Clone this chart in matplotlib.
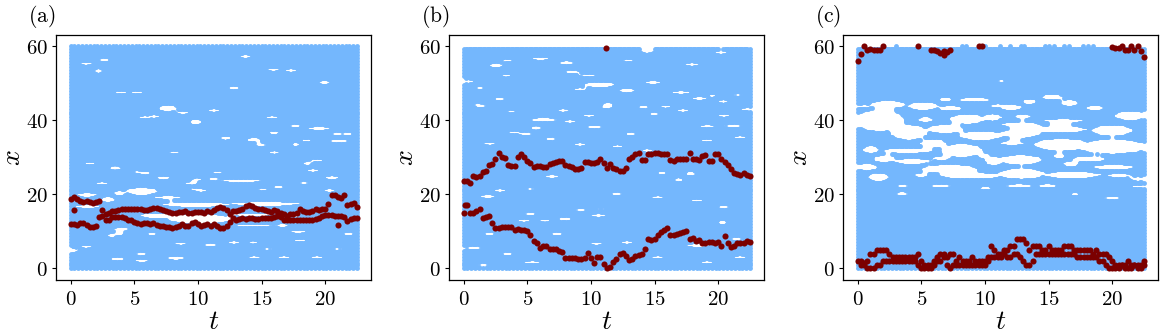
import numpy as np
import matplotlib
matplotlib.use('Agg')
import matplotlib.pyplot as plt

plt.rcParams['mathtext.fontset'] = 'cm'
plt.rcParams['axes.linewidth'] = 0.9

# temps d'echantillonnage et bords du nuage bleu
t_blue = np.arange(0, 22.51, 0.1)
x_blue = np.arange(0, 60.01, 0.2)
top_a, top_b, top_c = 60.0, 59.6, 59.5
dots_top_c = [3.0, 8.2, 8.5, 10.0, 11.2, 12.0, 12.8, 13.1, 14.7, 15.0, 15.4, 16.2, 16.6, 17.7, 18.1, 18.5]

# trous blancs du nuage bleu : (t debut, t fin, x centre, hauteur)
gaps_a = [(7.0,8.2,43.4,1.2),(9.4,10.2,39.7,.8),(1.85,2.45,53.5,.5),(8.4,9.2,42.2,.4),(11.8,12.5,35.3,.5),
          (13.9,14.8,34.9,.6),(15.6,16.3,36.8,.5),(18.6,20.4,38,.4),(20.3,21.8,34.5,.4),(19.5,20.3,50.4,.4),
          (15.6,16.3,31.5,.5),(14.6,15.3,33.5,.4),(17.4,17.9,33.6,.4),(18.2,18.8,34.7,.4),(18.3,18.8,28.5,.7),
          (3.1,3.8,27.2,.7),(6.8,7.7,24.6,.6),(11.9,14.9,23.8,.6),(4.4,6.7,21,1.5),(3.4,4.2,20.5,.9),
          (6.7,8.5,19.3,.6),(.5,2,20,.7),(2.4,3.4,18.7,1),(7.1,12.5,17.4,.8),(12.5,18,17.6,.8),(.5,2.1,16.9,.8),
          (5.5,9,14.4,1),(7.8,12.5,13.5,2),(12.5,16,14.6,.5),(16,18,14.3,.5),(16.2,17,11.7,.6),(12.5,16.2,11.7,.4),
          (3.4,4.6,10.8,.6),(2.9,3.5,9,.5),(17.3,18.4,10,.4),(10.5,11.4,6.5,.4),(3.1,4.2,2.7,.4),(7.6,8.9,2.9,.5),
          (5.1,6,2.2,.5),(.7,1.7,6,.3),(0,.5,5,.3),(5.4,6.2,25.9,.3),(9.6,10.2,24.2,.3),(9.4,10.2,21.5,.3),
          (1.2,1.8,28.5,.3),(14.7,15.4,21.5,.3),(18,18.6,23.3,.3),(20,21,24.5,.3),(6,6.7,9.5,.3),(14,14.6,7.2,.3)]
holes_a = [(1.2,55.4),(2.6,56.5),(5.8,41),(6.5,41.2),(3.9,47.7),(5.2,47.7),(11.2,42.8),(12.8,48.9),(15.9,53.8),
           (17.3,53.6),(13.7,57.4),(15.8,41),(17.6,38.7),(20.9,36.5),(21.7,36.5),(2.4,23.2),(5.2,26.2),(8.1,31.5),
           (9.4,23.2),(10.2,21.2),(11.2,24.3),(11.5,26.1),(16.3,22.1),(19.3,29.3),(19,26.6),(20.5,24.8),(20.3,21.2),
           (3.7,9.5),(8.6,6.8),(12.8,7.2),(15.4,5.4),(18,7.7),(20.9,5.4),(21.8,9.5),(5.5,4.1),(14.4,3.2),(16.7,3.2),
           (19.3,3.2)]
gaps_b = [(9.6,11.7,49.8,1),(2,3,55,.5),(7.5,8.6,55.7,.5),(8,9,53.3,.4),(9.1,10.4,52.3,.4),(5.4,6.6,56.8,.4),
          (12.5,13.3,56.3,.3),(17.3,18.5,55.2,.3),(14,14.8,58.8,.3),(19.8,20.6,58.4,.3),(0,.7,50.6,.3),(1,1.5,48.9,.3),
          (8.7,9.5,48.6,.3),(12.2,13.4,48.2,.5),(14.3,15.4,50.4,.4),(16.4,17.7,47.7,.5),(18,19,46.1,.6),
          (19.3,19.7,46.8,.4),(20,20.7,45.2,.3),(21.1,21.9,47,.3),(5.2,7.3,40.3,.6),(5.3,6,38.1,.5),(7.8,8.8,39.8,.3),
          (9.6,10.9,38.3,.3),(4.3,5.4,36.5,.3),(14.6,15.3,41.9,.3),(12.8,13.4,36.5,.4),(18.6,19.6,38.6,.4),
          (20.4,21.9,38.7,.3),(14,14.8,32,.3),(11.7,12.4,33.2,.3),(17.5,18.1,25.7,.8),(16.6,17.1,24.1,.5),
          (15.2,15.9,25.9,.3),(6.4,7.4,25,.4),(1.3,2.4,19.6,.4),(8.7,9.6,15.9,.3),(9.9,11.2,14.4,.3),(10.3,11.2,16.2,.2),
          (7.4,8.4,13.5,.4),(6,6.7,13,.3),(20,20.6,12.6,.5),(17.5,19.3,6.3,.6),(20.9,21.9,8.1,.3),(.2,1.4,5.7,.4),
          (4.7,6,1.8,.3),(1,2,1.1,.2),(3,3.6,52.2,.3),(3.4,4,42.5,.3),(15.5,16.2,43.8,.3),(11,11.6,44.5,.3),
          (.8,1.4,44.3,.3)]
holes_b = [(3.4,56.3),(1.3,44.1),(2.8,45.9),(7.8,42.8),(9.8,41.4),(11.2,43.7),(14.1,43.7),(17.2,42.8),(20.4,41.4),
           (22.2,43.2),(2,33.8),(3.9,36.9),(6.8,35.1),(9.1,33.6),(19.1,34.7),(21.7,35.6),(2.8,21.2),(5.2,21.6),(12,20.3),
           (15.2,19.4),(18.3,18.5),(20.4,16.7),(5.2,14.9),(2,9.5),(7.3,9.5),(10.4,6.8),(12.8,7.2),(3.4,4.1),(8.9,3.2),
           (15.2,3.2),(19.1,1.8),(21.7,3.2),(4.7,13)]
gaps_c = [(0,3.4,40.1,5),(1.1,3.6,44.4,1.6),(4,6.2,44,1.5),(6.4,8.1,43.4,.8),(6.4,7.3,45.8,.6),(8,10.3,45.7,.8),
          (7.3,9.9,40.5,2),(9.9,11.2,41,1.4),(4.8,5.8,40.3,1),(2.7,5.3,36.9,3.4),(5.6,8.1,37.8,2),(8.1,11.2,36,2),
          (5,6.8,33.9,1.8),(6.7,9.6,32,3),(.5,1.5,32.2,1.6),(2,5.7,31.9,1),(1.3,2.8,29.7,1.4),(2.9,5.6,29.1,1),
          (6,7.1,29.9,.8),(9.5,10.3,30.6,1),(10.1,11.2,29.1,1.8),(0,1.4,27.5,1.4),(5.2,9.1,27,2),(.9,2.3,24.8,1.6),
          (6.6,11.2,25.2,1.2),(4.5,5.4,25.3,.6),(3.1,3.9,22.5,.4),(3,3.9,20.3,.5),(9.6,10.4,21.8,.6),(5.7,7.3,22.5,.4),
          (10.4,11.6,44.1,.5),(11.2,12.8,43.7,1),(12.4,13.5,41.2,.8),(13,13.9,45.2,.8),(14.5,16,46.4,1),(16,17.2,44.8,1.1),
          (18,19.2,43.5,.7),(20.3,22.5,41.4,2),(11.2,14.2,39,.7),(14.6,17.7,40,.7),(11.2,14.2,36.6,1.8),(14,17.8,37.7,1.4),
          (18.5,21.4,37.4,2.3),(14,18,33.6,2.6),(17.5,22.5,33,3.2),(11.2,13,34,.8),(11.2,14.3,29.5,2),(15.4,16.2,30.5,.8),
          (16.2,17.2,28.4,1),(17,19.3,29.7,1),(18.5,21.6,27.5,1),(11.2,14.5,25.7,2.3),(14.6,19,25.4,1.3),(19.6,21.4,25.2,.6),
          (21.5,22.5,24.3,.5),(11.5,13.8,22.5,.5),(14.2,15.6,22.5,.5),(19.3,20.6,19.1,.3),(16.8,17.3,20.2,.4),(21.6,22.5,22.3,.4),
          (0,1,44,.3),(11,11.5,50.7,.2)]

# trajectoires rouges : (t debut, valeurs tous les 0.25)
red_a = [
    (0, [18.7,19.2,18.7,18.2,18.0,18.3,18.0,17.7,18.0,18.3]),
    (2.5, [15.7,14.8,15,15.5,15.4,15.8,16,16,16.2,16.2,16.2,16,16,15.8,15.8,16.2,16.3,16.4,16.2,15.9,15.5,15.3,15,15,
           15.2,15.3,15.4,14.9,15,15.3,15.3,15.2,15.1,15.4,15.3,15.7,16.4,16.5,16.4,15.8,14.8,15.6,15.6,15.7,16.2,16.8,
           17.1,16.8,16.3,16.2,16,15.7,15.4,15.3,15.7,15.6,15,14.6,14.3,14.7,14.8,15,16,15.4,15.2,15.3,15.5,16,15.9,16,
           16.1,17.5,19.8,19.9,19.4,19,19.9,17.2,17.3,17.8,16.7]),
    (0, [12,12,11.8,12.4,12.2,11.8,11.3,11.2,11.6,13.9,14.2,13.2,13,13.8,14,14,13.9,13.5,13.2,13,12.5,12.2,12.1,12.4,
         12.3,12.1,12.3,11.8,11.5,11.5,11.2,11.1,11,11.1,11.4,11.9,11.6,11.6,12.4,12.5,12,11.6,11.8,11.9,11.6,12.1,
         11.6,10.8,11,11.6,12.5,13.7,13.2,13.3,13.5,13.3,13.7,13.6,13.3,13.3,13.5,13.5,13.5,13.7,14,14.1,13.8,13.2,13,
         13,13,13.2,13,13,13,13,13.2,13.4,13.7,14.2,14.5,14.5,14.4,14.1,14.3,14.2,14,12.9,13.4,13.6,13.5]),
    (0.25, [15.7]), (21, [11.8]),
]
red_b = [
    (0, [23.5,23.5,23.2,25,24.6,25.1,26,26.4,28,28.2,29.7,31.3,30,29.8,28,27.6,27.8,30,30.9,30,29,28.4,27.5,27.6,27.6,
         27.3,27.3,28.3,28.5,28.9,29,29,28,27.7,27.3,27,27,27.1,28.7,28.9,28.5,28.5,28.7,29.5,28.5,27.1,28.2,27.2,26.8,
         26.2,26.3,27.2,29.7,30.2,31,31.2,29.3,29.2,31,31,31.2,31.2,31,31,31,29.2,29,29.5,29.5,29.7,29.7,31.3,29.5,29.5,
         29.2,30.5,30.7,29,29,31,30.8,29.7,28.7,27.9,27,25.8,25.5,25.3,25.7,25.3,25]),
    (0, [15,17.1,14.9,15,15.5,16,13.6,13.9,14.2,12.3,11,11,11.1,11.3,11.2,11.2,10.4,10.7,10.4,10.5,10.2,9,7.5,7,5.5,6,6,
         5.2,5.2,5.2,4.7,4.5,2.8,2.7,2.7,2.7,2.6,2.5,2.9,4.2,2.9,1.6,3.1,3,1.2,0,.3,1.8,2.5,3.9,4.2,3.3,2.2,2.5,3.5,3.6,
         3.8,5.2,7.9,7.8,7.9,9,9.8,10.3,10.8,9,9,9.2,9.5,9.8,10,8,8.2,7.5,7.7,7,7,7.2,7.2,7,7.2,6,8.8,7,5.7,6,7,7,7,7.3,
         7.2]),
    (0.1, [17.2]), (11.2, [59.6]),
]
red_c = [
    (0, [56,58,60,59,59.2,59,59,59,60]),
    (4.75, [60]),
    (5.75, [59,59,58.8,58.2,58.8,58.4,59]),
    (6.75, [57.8]),
    (9.5, [60,60]),
    (20, [59.8,59.5,59.5,60,59,59,60,59,60,58.8,57.2]),
    (0, [2,2,1.5,2,4,4,5,5,5,5,4,3,3,3,3,3,3,3,3,4,2,1,1,1,2,3,4,4,3,4,4,2,3,2,2,2,3,2,2,2,1,3,6,5,4,4,5,5,6,6,8,8,8,7,5,
         6,6,6,5,5,6,5,5,5,5,6,6,6,5,5,5,5,5,5,4,5,4,4,4,3,2,1,1,1,1,2,1,1,1,1,2]),
    (0.25, [1,1,0,0,0,1,1,2,2,2,2,2,2,2,2,2,2,2,1,0,0,0,0,1,2,2,3,1,0,1,1,1,1,1,1,1,1,1,1,2,2,3,3,3,3,4,3,3,4,4,3,2,1,1,2,
            4,4,4,4,4,4,4,4,4,4,4,4,4,3,3,3,3,3,3,3,2,2,1,0,0,0,0,1,0,0,0,1,0,0,1]),
]
panel_labels = ['(a)', '(b)', '(c)']
xticks = [0, 5, 10, 15, 20]
yticks = [0, 20, 40, 60]

lefts = [56.3, 449.3, 843.3]
fig = plt.figure(figsize=(11.64, 3.35), dpi=100)

def nuage(ax, gaps, holes, top):
    T, X = np.meshgrid(t_blue, x_blue[x_blue <= top])
    I, J = np.meshgrid(np.arange(T.shape[1]), np.arange(T.shape[0]))
    # sur les bords on garde moins de points pour avoir un contour festonne
    edge = (T < 0.15) | (T > 22.35) | (X < 0.3) | (X > top - 0.3)
    keep = ~edge | ((I % 3 == 0) & (J % 4 == 0))
    # rayon du marqueur en unites des donnees
    rt, rx = 0.18, 0.65
    all_gaps = list(gaps) + [(t - 0.4, t + 0.4, x, 0.3) for t, x in holes]
    for t0, t1, xc, h in all_gaps:
        tc = (t0 + t1) / 2
        a = (t1 - t0) / 2 * 1.1 + rt
        b = h / 2 * 1.1 + rx
        # trou en forme de lentille
        keep &= ((T - tc) / a) ** 2 + ((X - xc) / b) ** 2 > 1
    ax.plot(T[keep], X[keep], 'o', color='#74b7fd', ms=3.5, mew=0)

panels = [(gaps_a, holes_a, red_a, top_a), (gaps_b, holes_b, red_b, top_b), (gaps_c, [], red_c, top_c)]
for i, (gaps, holes, red, top) in enumerate(panels):
    ax = fig.add_axes([lefts[i] / 1164, 1 - 280.3 / 335, 315 / 1164, 245 / 335])
    nuage(ax, gaps, holes, top)
    if i == 2:
        ax.plot(dots_top_c, [60] * len(dots_top_c), 'o', color='#74b7fd', ms=3.5, mew=0)
    for start, vals in red:
        t = start + 0.25 * np.arange(len(vals))
        ax.plot(t, vals, 'o', color='#7b0000', ms=4.4, mew=0)
    ax.set_xlim(-1.125, 23.625)
    ax.set_ylim(-3.2, 63)
    ax.set_xticks(xticks)
    ax.set_xticklabels(['$%d$' % v for v in xticks])
    ax.set_yticks(yticks)
    ax.set_yticklabels(['$%d$' % v for v in yticks])
    ax.tick_params(labelsize=15, length=3, width=0.8, pad=3)
    ax.set_xlabel('$t$', fontsize=20, labelpad=-1)
    ax.set_ylabel('$x$', fontsize=20, labelpad=0)
    fig.text((lefts[i] - 28) / 1164, 1 - 22 / 335, r'$\mathrm{%s}$' % panel_labels[i], fontsize=15.5)

fig.savefig('out.png', dpi=100)
